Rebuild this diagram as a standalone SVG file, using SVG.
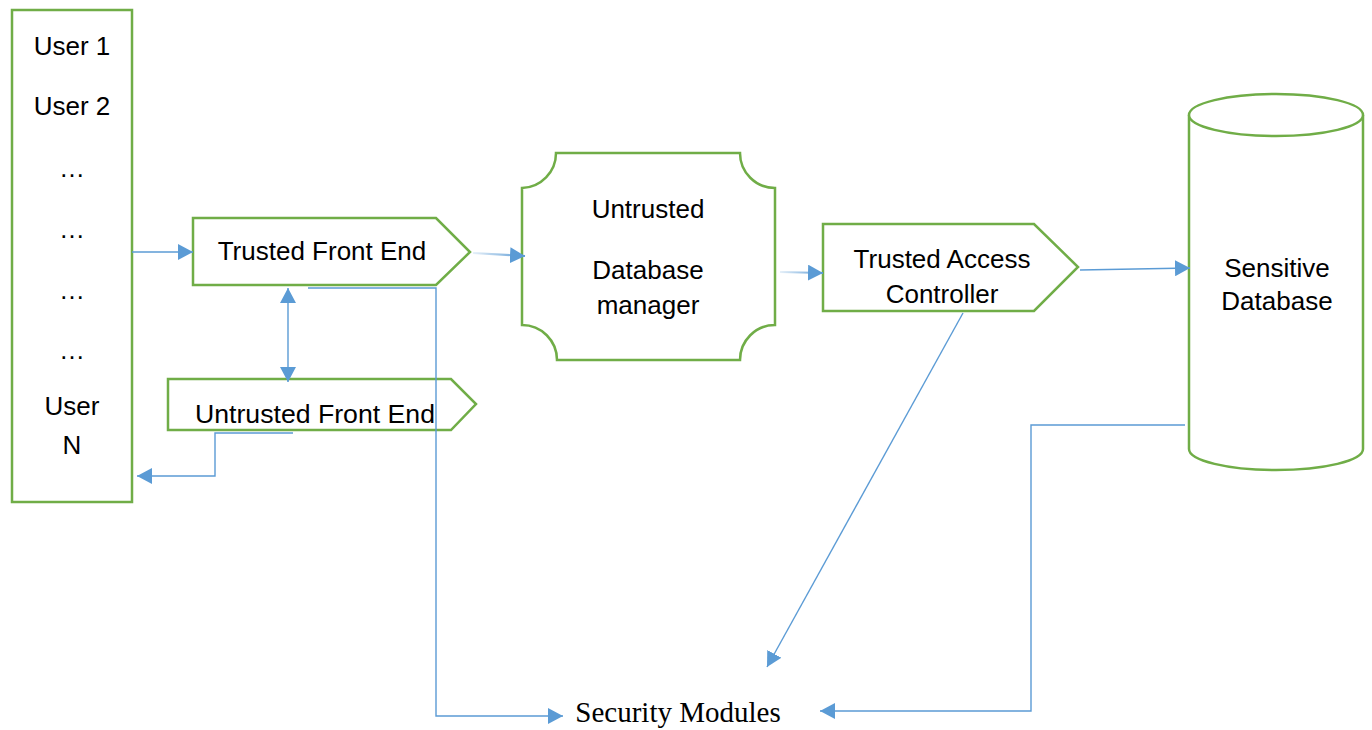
<svg xmlns="http://www.w3.org/2000/svg" width="1372" height="730" viewBox="0 0 1372 730">
  <style>
    .node { fill: #FFFFFF; stroke: #70AD47; stroke-width: 2.5; }
    .lbl { font-family: "Liberation Sans", Arial, sans-serif; font-size: 26px; fill: #000000; text-anchor: middle; }
    .serif { font-family: "Liberation Serif", "Times New Roman", serif; font-size: 29px; fill: #000000; text-anchor: middle; }
    .wire { fill: none; stroke: #5B9BD5; stroke-width: 1.4; }
    .soft { fill: none; stroke-width: 2.2; }
  </style>
  <defs>
    <marker id="arrow" viewBox="0 0 15 16" refX="15" refY="8" markerWidth="15" markerHeight="16" markerUnits="userSpaceOnUse" orient="auto-start-reverse">
      <path d="M0,0 L15,8 L0,16 Z" fill="#5B9BD5"/>
    </marker>
    <linearGradient id="fade1" x1="473" y1="0" x2="525" y2="0" gradientUnits="userSpaceOnUse">
      <stop offset="0" stop-color="#5B9BD5" stop-opacity="0.15"/>
      <stop offset="1" stop-color="#5B9BD5" stop-opacity="1"/>
    </linearGradient>
    <linearGradient id="fade2" x1="780" y1="0" x2="823" y2="0" gradientUnits="userSpaceOnUse">
      <stop offset="0" stop-color="#5B9BD5" stop-opacity="0.15"/>
      <stop offset="1" stop-color="#5B9BD5" stop-opacity="1"/>
    </linearGradient>
  </defs>

  <rect width="1372" height="730" fill="#FFFFFF"/>

  <!-- Users column -->
  <g id="users">
    <rect class="node" x="12" y="10" width="120" height="492"/>
    <text class="lbl" x="72" y="55">User 1</text>
    <text class="lbl" x="72" y="115">User 2</text>
    <text class="lbl" x="72" y="177">…</text>
    <text class="lbl" x="72" y="238">…</text>
    <text class="lbl" x="72" y="299">…</text>
    <text class="lbl" x="72" y="359">…</text>
    <text class="lbl" x="72" y="415">User</text>
    <text class="lbl" x="72" y="454">N</text>
  </g>

  <!-- Trusted front end -->
  <g id="trusted-front-end">
    <polygon class="node" points="193,218 436,218 470,252 436,285 193,285"/>
    <text class="lbl" x="322" y="260">Trusted Front End</text>
  </g>

  <!-- Untrusted front end -->
  <g id="untrusted-front-end">
    <polygon class="node" points="168,379 451,379 476,404 451,430 168,430"/>
    <text class="lbl" x="315" y="423" textLength="240" lengthAdjust="spacingAndGlyphs">Untrusted Front End</text>
  </g>

  <!-- Untrusted database manager -->
  <g id="database-manager">
    <path class="node" d="M556,153 L740,153 A35,35 0 0 0 775,188 L775,325 A35,35 0 0 0 740,360 L557,360 A35,35 0 0 0 522,325 L522,188 A35,35 0 0 0 556,153 Z"/>
    <text class="lbl" x="648" y="218">Untrusted</text>
    <text class="lbl" x="648" y="279">Database</text>
    <text class="lbl" x="648" y="314">manager</text>
  </g>

  <!-- Trusted access controller -->
  <g id="access-controller">
    <polygon class="node" points="823,224 1034,224 1078,267 1034,311 823,311"/>
    <text class="lbl" x="942" y="268">Trusted Access</text>
    <text class="lbl" x="942" y="303">Controller</text>
  </g>

  <!-- Sensitive database cylinder -->
  <g id="sensitive-database">
    <path class="node" d="M1189,115 L1189,449 A87,21 0 0 0 1363,449 L1363,115"/>
    <ellipse class="node" cx="1276" cy="115" rx="87" ry="21"/>
    <text class="lbl" x="1277" y="277">Sensitive</text>
    <text class="lbl" x="1277" y="310">Database</text>
  </g>

  <!-- Security modules label -->
  <g id="security-modules">
    <text class="serif" x="678" y="722">Security Modules</text>
  </g>

  <!-- Connectors -->
  <g id="connectors">
    <line class="wire" x1="132" y1="252" x2="193" y2="252" marker-end="url(#arrow)"/>
    <line class="soft" stroke="url(#fade1)" x1="473" y1="253" x2="525" y2="256" marker-end="url(#arrow)"/>
    <line class="soft" stroke="url(#fade2)" x1="780" y1="272" x2="823" y2="273" marker-end="url(#arrow)"/>
    <line class="wire" x1="1080" y1="270" x2="1190" y2="268" marker-end="url(#arrow)"/>
    <line class="wire" x1="288" y1="288" x2="288" y2="382" marker-start="url(#arrow)" marker-end="url(#arrow)"/>
    <polyline class="wire" points="293,433 215,433 215,476 137,476" marker-end="url(#arrow)"/>
    <polyline class="wire" points="308,288 436,288 436,716 563,716" marker-end="url(#arrow)"/>
    <line class="wire" x1="963" y1="313" x2="767" y2="667" marker-end="url(#arrow)"/>
    <polyline class="wire" points="1185,425 1031,425 1031,711 820,711" marker-end="url(#arrow)"/>
  </g>
</svg>
